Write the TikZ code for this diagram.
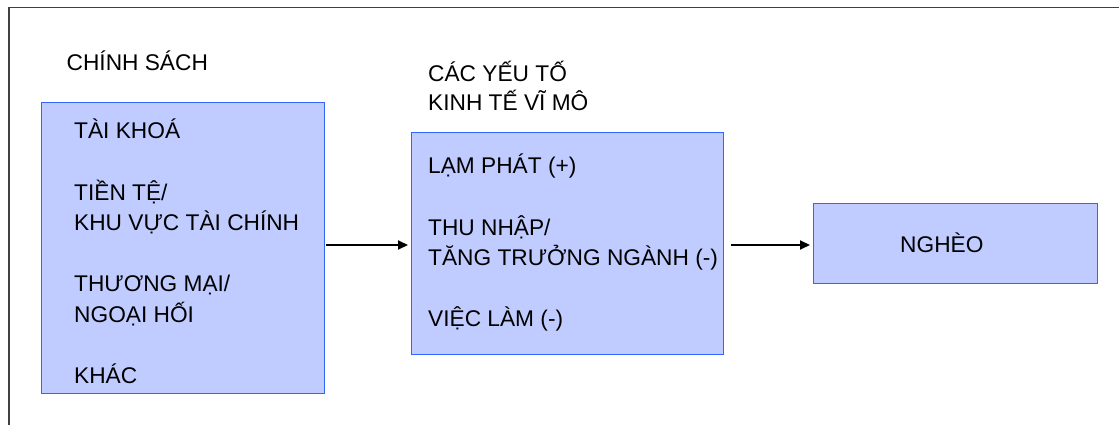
\documentclass[tikz,border=0pt]{standalone}
\usepackage{fontspec}
\setmainfont{Liberation Sans}
\usetikzlibrary{arrows.meta}
\definecolor{boxfill}{RGB}{192,204,255}
\definecolor{boxline}{RGB}{51,102,255}
\definecolor{framegray}{RGB}{64,64,64}
\begin{document}
\begin{tikzpicture}[x=1pt,y=-1pt,
  box/.style={draw=boxline,fill=boxfill,line width=1pt,rectangle,inner sep=0pt,anchor=north west},
  txt/.style={anchor=base west,inner sep=0pt,font=\fontsize{22.7}{27}\selectfont},
  conn/.style={line width=2pt,-{Triangle[length=10pt,width=9pt]}},
  frameline/.style={draw=framegray,line width=1.3pt}]
\useasboundingbox (0,0) rectangle (1119,425);
% frame
\coordinate (fr1) at (9,425);
\coordinate (fr2) at (9,7.5);
\coordinate (fr3) at (1119,7.5);
\draw[frameline] (fr1) -- (fr2) -- (fr3);
% boxes
\node[box,minimum width=283pt,minimum height=291pt] (b1) at (41,102) {};
\node[box,minimum width=312pt,minimum height=222pt] (b2) at (411,132) {};
\node[box,minimum width=284pt,minimum height=80pt] (b3) at (813,203) {};
% headings
\node[txt] (h1) at (66.5,71) {CHÍNH SÁCH};
\node[txt] (h2a) at (428,82) {CÁC YẾU TỐ};
\node[txt] (h2b) at (428,111) {KINH TẾ VĨ MÔ};
% box 1 text
\node[txt] (t11) at (74,139) {TÀI KHOÁ};
\node[txt] (t12) at (74,200) {TIỀN TỆ/};
\node[txt] (t13) at (74,230.5) {KHU VỰC TÀI CHÍNH};
\node[txt] (t14) at (74,291.5) {THƯƠNG MẠI/};
\node[txt] (t15) at (74,322) {NGOẠI HỐI};
\node[txt] (t16) at (74,383) {KHÁC};
% box 2 text
\node[txt] (t21) at (428,174) {LẠM PHÁT (+)};
\node[txt] (t22) at (428,235) {THU NHẬP/};
\node[txt] (t23) at (428,265.5) {TĂNG TRƯỞNG NGÀNH (-)};
\node[txt] (t24) at (428,326.5) {VIỆC LÀM (-)};
% box 3 text
\node[txt] (t31) at (900,252) {NGHÈO};
% connectors
\coordinate (ay) at (0,245);
\draw[conn,shorten <=1pt,shorten >=3pt] (b1.east |- ay) -- (b2.west |- ay);
\draw[conn,shorten <=7pt,shorten >=3pt] (b2.east |- ay) -- (b3.west |- ay);
\end{tikzpicture}
\end{document}
